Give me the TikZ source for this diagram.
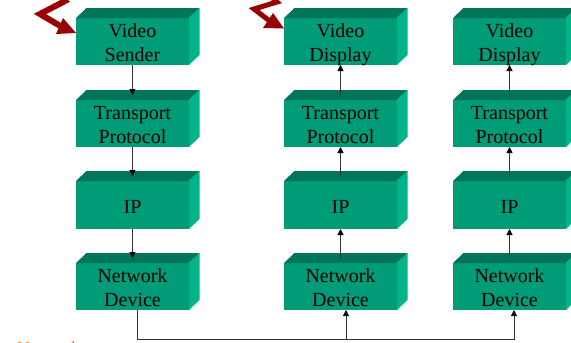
\documentclass[tikz,border=0pt]{standalone}
\usepackage{fontspec}
\setmainfont{Liberation Serif}
\usetikzlibrary{arrows.meta,calc}
\definecolor{frontgreen}{HTML}{009B77}
\definecolor{topgreen}{HTML}{00755A}
\definecolor{sidegreen}{HTML}{00B488}
\definecolor{boltred}{HTML}{990000}
\definecolor{labelorange}{HTML}{C87800}
\newcommand{\boxtext}[1]{\smash{\raisebox{-8.5pt}{\begin{tabular}{@{}c@{}}#1\end{tabular}}}}
\tikzset{
  stackbox/.style={fill=frontgreen,minimum width=113pt,inner sep=0pt,outer sep=0pt,align=center,
    font=\fontsize{20pt}{24pt}\selectfont,text=black},
  conn/.style={black!80,line width=1pt,-{Triangle[length=6pt,width=6pt,color=black]}},
  link/.style={black!80,line width=1pt},
  bolt/.style={boltred,line width=6pt,miter limit=10,line join=miter},
  bolthead/.style={fill=boltred,draw=none}
}
\begin{document}
\begin{tikzpicture}[x=1pt,y=-1pt]
\clip (0,0) rectangle (571,343);
\fill[white] (0,0) rectangle (571,343);
% fronts
\node[stackbox,minimum height=47pt] (a1) at (132.5,41.5) {\boxtext{Video\\Sender}};
\node[stackbox,minimum height=47pt] (a2) at (132.5,123.5) {\boxtext{Transport\\Protocol}};
\node[stackbox,minimum height=48pt] (a3) at (132.5,205) {\boxtext{IP}};
\node[stackbox,minimum height=47pt] (a4) at (132.5,286.5) {\boxtext{Network\\Device}};
\node[stackbox,minimum height=47pt] (b1) at (340.5,41.5) {\boxtext{Video\\Display}};
\node[stackbox,minimum height=47pt] (b2) at (340.5,123.5) {\boxtext{Transport\\Protocol}};
\node[stackbox,minimum height=48pt] (b3) at (340.5,205) {\boxtext{IP}};
\node[stackbox,minimum height=47pt] (b4) at (340.5,286.5) {\boxtext{Network\\Device}};
\node[stackbox,minimum height=47pt] (c1) at (509.5,41.5) {\boxtext{Video\\Display}};
\node[stackbox,minimum height=47pt] (c2) at (509.5,123.5) {\boxtext{Transport\\Protocol}};
\node[stackbox,minimum height=48pt] (c3) at (509.5,205) {\boxtext{IP}};
\node[stackbox,minimum height=47pt] (c4) at (509.5,286.5) {\boxtext{Network\\Device}};
% 3D faces
\foreach \n in {a1,a2,a3,a4,b1,b2,b3,b4,c1,c2,c3,c4}{
  \fill[topgreen] (\n.north west) -- ++(10.5,-10) -- ($(\n.north east)+(10.5,-10)$) -- (\n.north east) -- cycle;
  \fill[sidegreen] (\n.north east) -- ++(10.5,-10) -- ($(\n.south east)+(10.5,-10)$) -- (\n.south east) -- cycle;
}
% downward stack
\draw[conn] (a1.south) -- ([yshift=5pt]a2.north);
\draw[conn] (a2.south) -- ([yshift=5pt]a3.north);
\draw[conn] (a3.south) -- ([yshift=5pt]a4.north);
% upward stacks
\foreach \l/\u in {b2/b1,b3/b2,b4/b3,c2/c1,c3/c2,c4/c3}{
  \draw[conn] ([yshift=5pt]\l.north) -- (\u.south);
}
% network
\coordinate (busL) at ([xshift=4.5pt,yshift=-29.5pt]a4.south);
\coordinate (busR) at ([xshift=4.5pt,yshift=-29.5pt]c4.south);
\coordinate (busM) at ([xshift=5.5pt,yshift=-29.5pt]b4.south);
\draw[link] ([xshift=4.5pt]a4.south) -- (busL) -- (busR);
\draw[conn] (busM) -- ([xshift=5.5pt]b4.south);
\draw[conn] (busR) -- ([xshift=4.5pt]c4.south);
% bolts
\coordinate (ba) at (a1.west |- 0,33);
\coordinate (bb) at (b1.west |- 0,28.5);
\draw[bolt] (56,-8) -- (65,1) -- (40,14) -- (62,27);
\fill[bolthead] (ba) -- (56,34) -- (63,18) -- cycle;
\draw[bolt,line width=5pt] (268,-6) -- (277,2) -- (254,9) -- (271,22);
\fill[bolthead] (bb) -- (263,28) -- (273,13) -- cycle;
% clipped caption
\node[anchor=base west,inner sep=0pt,text=labelorange,font=\fontsize{18pt}{22pt}\selectfont] (cap) at (17,354.5) {Network};
\end{tikzpicture}
\end{document}
